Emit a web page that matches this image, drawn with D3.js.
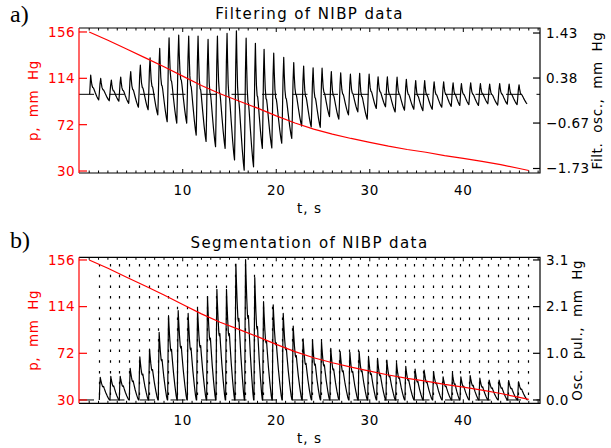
<!DOCTYPE html>
<html>
<head>
<meta charset="utf-8">
<script src="https://cdn.jsdelivr.net/npm/d3@7"></script>
<style>
  body { margin: 0; background: #fff; }
  svg text { font-family: "DejaVu Sans", sans-serif; white-space: pre; }
</style>
</head>
<body>
<svg id="chart" width="611" height="448"></svg>
<script>
// time axis
const tDomain = [-1.09, 48.2];
const xMajor = [10, 20, 30, 40];

// cuff pressure (red), mm Hg
const pressureT = [0, 2, 4, 6, 8, 10, 12, 14, 16, 18, 20, 22, 24, 26, 28, 30, 32, 34, 36, 38, 40, 42, 44, 46, 47];
const pressure  = [156, 148.5, 140.5, 132.5, 124.5, 116, 107.5, 100, 93.5, 87, 80, 73.5, 68, 63.5, 59.5, 56, 52.5, 49.5, 47, 44, 41.5, 38.8, 35.8, 32.3, 30.5];

// beat boundaries (s) = dotted segmentation lines
const beatOnsets = [1.08, 2.22, 3.22, 4.29, 5.32, 6.36, 7.39, 8.39, 9.42, 10.49, 11.49, 12.56, 13.56, 14.59, 15.59,
  16.63, 17.62, 18.55, 19.58, 20.65, 21.72, 22.78, 23.79, 24.75, 25.74, 26.74, 27.78, 28.77, 29.78, 30.74, 31.73,
  32.77, 33.76, 34.76, 35.72, 36.73, 37.75, 38.76, 39.65, 40.64, 41.68, 42.67, 43.74, 44.75, 45.81, 46.88];

// filtered oscillations: peak and following trough of each beat, mm Hg
const firstPeakT = 0.16;
const peakDelay = 0.15;
const filtPeaks = [0.45, 0.37, 0.33, 0.40, 0.53, 0.68, 0.85, 1.07, 1.32, 1.38, 1.36, 1.36, 1.28, 1.36, 1.42, 1.48,
  1.31, 1.19, 1.05, 0.96, 0.86, 0.74, 0.66, 0.62, 0.61, 0.53, 0.50, 0.47, 0.49, 0.47, 0.41, 0.41, 0.40, 0.35,
  0.32, 0.32, 0.29, 0.29, 0.27, 0.25, 0.27, 0.25, 0.24, 0.25, 0.24, 0.22];
const filtTroughs = [-0.13, -0.15, -0.16, -0.21, -0.30, -0.36, -0.48, -0.64, -0.67, -0.67, -0.95, -1.10, -1.22,
  -1.26, -1.53, -1.77, -1.69, -1.26, -1.25, -1.14, -1.03, -0.74, -0.76, -0.77, -0.52, -0.58, -0.48, -0.41, -0.58,
  -0.33, -0.29, -0.41, -0.37, -0.35, -0.38, -0.35, -0.30, -0.28, -0.26, -0.24, -0.26, -0.22, -0.25, -0.23, -0.24, -0.22];
// shape of one filtered beat: [phase, fraction], fall from peak then rise to next peak
const filtFall = [[0, 1], [0.05, 0.8], [0.12, 0.6], [0.2, 0.5], [0.26, 0.49], [0.32, 0.44], [0.45, 0.3], [0.6, 0.15], [0.72, 0.05], [0.8, 0]];
const filtRise = [[0.86, 0.3], [0.93, 0.75], [1, 1]];

// segmented oscillation pulses: peak of each beat, mm Hg
const pulseAmps = [0.50, 0.52, 0.52, 0.70, 0.95, 1.12, 1.49, 1.86, 1.97, 1.91, 2.00, 2.28, 2.44, 2.44, 3.00, 3.10,
  2.70, 2.17, 2.10, 1.91, 1.63, 1.35, 1.32, 1.29, 1.14, 1.07, 1.05, 1.07, 0.96, 0.92, 0.88, 0.82, 0.74, 0.68,
  0.66, 0.62, 0.51, 0.59, 0.51, 0.54, 0.48, 0.44, 0.44, 0.43, 0.40];
const pulseShape = [[0, 0], [0.04, 0.55], [0.09, 1], [0.14, 0.88], [0.22, 0.72], [0.3, 0.6], [0.35, 0.58], [0.4, 0.6],
  [0.47, 0.5], [0.6, 0.33], [0.75, 0.17], [0.88, 0.05], [0.96, 0], [1, 0]];

// axis ticks
const pTicks = [30, 72, 114, 156];
const filtTicks = [-1.73, -0.67, 0.38, 1.43];
const filtTickLabels = ["\u22121.73", "\u22120.67", "0.38", "1.43"];
const oscTicks = [0, 1.03, 2.06, 3.09];
const oscTickLabels = ["0.0", "1.0", "2.1", "3.1"];

const svg = d3.select('#chart');
const RED = '#ff0000';

const x = d3.scaleLinear().domain(tDomain).range([79, 540]);

// panel a
const pA = d3.scaleLinear().domain([28.2, 159.6]).range([173, 28]);
const fA = d3.scaleLinear().domain([-1.835, 1.547]).range([173, 28]);
// panel b
const pB = d3.scaleLinear().domain([27.0, 158.4]).range([403.3, 257.3]);
const oB = d3.scaleLinear().domain([27.0, 158.4].map(p => (p - 30) * 3.09 / 126)).range([403.3, 257.3]);

const pressurePts = pressureT.map((t, i) => [t, pressure[i]]);

// filtered signal samples
const filtPts = [[0.05, 0]];
for (let k = 0; k < filtPeaks.length; k++) {
  const t0 = k === 0 ? firstPeakT : beatOnsets[k - 1] + peakDelay;
  const t1 = beatOnsets[k] + peakDelay;
  const next = k + 1 < filtPeaks.length ? filtPeaks[k + 1] : 0.3;
  filtFall.forEach(([ph, s]) => filtPts.push([t0 + ph * (t1 - t0), filtTroughs[k] + (filtPeaks[k] - filtTroughs[k]) * s]));
  filtRise.forEach(([ph, s]) => {
    const t = t0 + ph * (t1 - t0);
    if (t <= beatOnsets[beatOnsets.length - 1]) filtPts.push([t, filtTroughs[k] + (next - filtTroughs[k]) * s]);
  });
}

// segmented pulses
const pulsePts = [];
for (let k = 0; k < pulseAmps.length; k++) {
  const t0 = beatOnsets[k], t1 = beatOnsets[k + 1];
  pulseShape.forEach(([ph, s]) => pulsePts.push([t0 + ph * (t1 - t0), pulseAmps[k] * s]));
}

function panel(cfg) {
  const { yL, yR, top, bottom, title, titleY, letter, letterY, rTicks, rLabels, rTitle, rTitleX } = cfg;
  const g = svg.append('g');
  const y0 = bottom, y1 = top;

  // zero line of oscillations (dashed)
  g.append('line')
    .attr('x1', x.range()[0]).attr('x2', x.range()[1])
    .attr('y1', yR(0)).attr('y2', yR(0))
    .attr('stroke', '#000').attr('stroke-width', 1)
    .attr('stroke-dasharray', '15,15.5');

  if (cfg.segments) {
    g.selectAll('line.seg').data(beatOnsets).join('line')
      .attr('class', 'seg')
      .attr('x1', d => Math.round(x(d)) + 0.5).attr('x2', d => Math.round(x(d)) + 0.5)
      .attr('y1', y1).attr('y2', y0)
      .attr('stroke', '#000').attr('stroke-width', 1.2)
      .attr('stroke-dasharray', '2.5,8.2')
      .attr('stroke-dashoffset', 4);
  }

  // signal
  g.append('path')
    .datum(cfg.signal)
    .attr('fill', 'none').attr('stroke', '#000').attr('stroke-width', 1.2)
    .attr('stroke-linejoin', 'round')
    .attr('d', d3.line().x(d => x(d[0])).y(d => yR(d[1])));

  // pressure
  g.append('path')
    .datum(pressurePts)
    .attr('fill', 'none').attr('stroke', RED).attr('stroke-width', 1.2)
    .attr('d', d3.line().x(d => x(d[0])).y(d => yL(d[1])));

  // frame
  const [xl, xr] = x.range();
  g.append('path')
    .attr('d', `M${xl},${y1}H${xr}V${y0}H${xl}`)
    .attr('fill', 'none').attr('stroke', '#000').attr('stroke-width', 1.2);
  g.append('line').attr('x1', xl).attr('x2', xl).attr('y1', y1).attr('y2', y0)
    .attr('stroke', RED).attr('stroke-width', 1.2);

  // x ticks, bottom and top
  const minor = d3.range(0, 49).filter(v => !xMajor.includes(v));
  [[y0, -1], [y1, 1]].forEach(([yy, dir]) => {
    g.selectAll(null).data(minor).join('line')
      .attr('x1', d => x(d)).attr('x2', d => x(d))
      .attr('y1', yy).attr('y2', yy + dir * 2.5)
      .attr('stroke', '#000').attr('stroke-width', 1);
    g.selectAll(null).data(xMajor).join('line')
      .attr('x1', d => x(d)).attr('x2', d => x(d))
      .attr('y1', yy).attr('y2', yy + dir * 4)
      .attr('stroke', '#000').attr('stroke-width', 1);
  });
  g.selectAll(null).data(xMajor).join('text')
    .attr('x', d => x(d)).attr('y', y0 + 22)
    .attr('text-anchor', 'middle').attr('font-size', 13.5).attr('fill', '#000')
    .attr('letter-spacing', 0.6)
    .text(d => d);
  g.append('text').attr('x', (xl + xr) / 2).attr('y', y0 + 40)
    .attr('text-anchor', 'middle').attr('font-size', 13.5).attr('letter-spacing', 1)
    .text('t, s');

  // left axis (pressure)
  g.selectAll(null).data(pTicks).join('line')
    .attr('x1', xl).attr('x2', xl + 8)
    .attr('y1', d => yL(d)).attr('y2', d => yL(d))
    .attr('stroke', RED).attr('stroke-width', 1.2);
  g.selectAll(null).data(pTicks).join('text')
    .attr('x', xl - 4).attr('y', d => yL(d)).attr('dy', '0.36em')
    .attr('text-anchor', 'end').attr('font-size', 13.5).attr('fill', RED)
    .attr('letter-spacing', 0.4)
    .text(d => d);
  g.append('text')
    .attr('transform', `translate(38,${(y0 + y1) / 2}) rotate(-90)`)
    .attr('text-anchor', 'middle').attr('font-size', 13.5).attr('fill', RED)
    .attr('letter-spacing', 0.6)
    .text('p,  mm  Hg');

  // right axis
  g.selectAll(null).data(rTicks).join('line')
    .attr('x1', xr - 7).attr('x2', xr)
    .attr('y1', d => yR(d)).attr('y2', d => yR(d))
    .attr('stroke', '#000').attr('stroke-width', 1.2);
  g.selectAll(null).data(rTicks).join('text')
    .attr('x', xr + 6).attr('y', d => yR(d)).attr('dy', '0.36em')
    .attr('font-size', 13.5).attr('fill', '#000').attr('letter-spacing', 0.4)
    .text((d, i) => rLabels[i]);
  g.append('text')
    .attr('transform', `translate(${rTitleX},${(y0 + y1) / 2}) rotate(-90)`)
    .attr('text-anchor', 'middle').attr('font-size', 13.5).attr('fill', '#000')
    .attr('letter-spacing', 0.6)
    .text(rTitle);

  // title and panel letter
  g.append('text').attr('x', (xl + xr) / 2).attr('y', titleY)
    .attr('text-anchor', 'middle').attr('font-size', 15).attr('fill', '#000')
    .attr('letter-spacing', 1.4)
    .text(title);
  g.append('text').attr('x', 10).attr('y', letterY)
    .style('font-family', '"Liberation Serif", serif')
    .attr('font-size', 24).attr('fill', '#000')
    .text(letter);
}

panel({
  yL: pA, yR: fA, top: 28, bottom: 173, signal: filtPts,
  title: 'Filtering of NIBP data', titleY: 19, letter: 'a)', letterY: 22,
  rTicks: filtTicks, rLabels: filtTickLabels, rTitle: 'Filt.  osc.,  mm  Hg', rTitleX: 602
});
panel({
  yL: pB, yR: oB, top: 257.3, bottom: 403.3, signal: pulsePts, segments: true,
  title: 'Segmentation of NIBP data', titleY: 248, letter: 'b)', letterY: 248,
  rTicks: oscTicks, rLabels: oscTickLabels, rTitle: 'Osc.  pul.,  mm  Hg', rTitleX: 582
});
</script>
</body>
</html>
